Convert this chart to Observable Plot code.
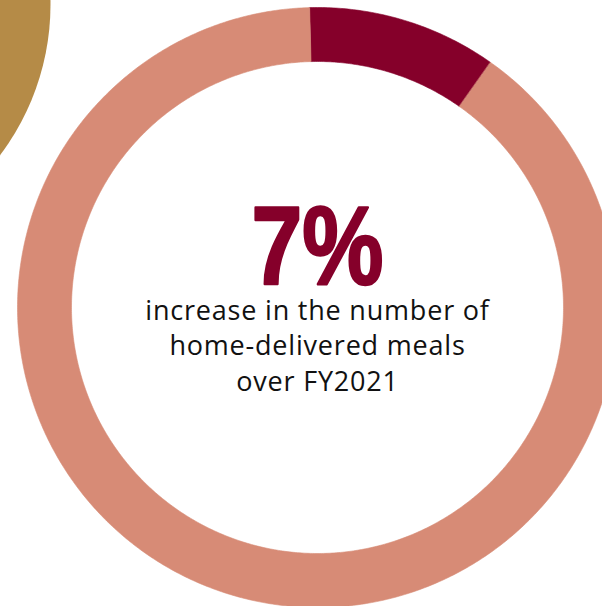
<!DOCTYPE html>
<html><head><meta charset="utf-8">
<script src="https://cdn.jsdelivr.net/npm/d3@7"></script>
<script src="https://cdn.jsdelivr.net/npm/@observablehq/plot@0.6"></script>
<style>html,body{margin:0;padding:0;background:#fff;overflow:hidden}</style>
</head><body><div id="chart"></div>
<script>
// ---- data ----
const segments = ["Increase", "Rest"];
const shares = [10.2, 89.8];
const colors = ["#85002A", "#D78B76"];
const headline = ["7%"];
const captionLines = ["increase in the number of", "home-delivered meals", "over FY2021"];

// ---- layout ----
const W = 602, H = 606, cx = 317, cy = 307, rOuter = 300, rInner = 246;
const startAngle = -1.5 * Math.PI / 180;

const pie = d3.pie().sort(null).startAngle(startAngle).endAngle(startAngle + 2 * Math.PI);
const arcs = pie(shares);
const ringPts = [];
arcs.forEach((a, i) => {
  const n = Math.max(2, Math.ceil((a.endAngle - a.startAngle) / (Math.PI / 360)));
  for (let k = 0; k <= n; k++) {
    const t = a.startAngle + (a.endAngle - a.startAngle) * k / n;
    ringPts.push({seg: segments[i], x: rOuter * Math.sin(t), y: rOuter * Math.cos(t)});
  }
  for (let k = n; k >= 0; k--) {
    const t = a.startAngle + (a.endAngle - a.startAngle) * k / n;
    ringPts.push({seg: segments[i], x: rInner * Math.sin(t), y: rInner * Math.cos(t)});
  }
});

const chart = Plot.plot({
  width: W, height: H, margin: 0,
  x: {domain: [-cx, W - cx], axis: null},
  y: {domain: [cy - H, cy], axis: null},
  color: {domain: segments, range: colors},
  marks: [
    Plot.dot([0], {x: -200 - cx, y: cy - 4, r: 250, fill: "#B58B47"}),
    Plot.line(ringPts, {x: "x", y: "y", z: "seg", fill: "seg", stroke: "seg", strokeWidth: 0.6, curve: "linear-closed"}),
    Plot.text(headline, {x: 0, y: cy - 283, text: d => d, lineAnchor: "bottom", fontSize: 112, fontWeight: "bold",
      fontFamily: "'Liberation Sans', sans-serif", fill: "#85002A", stroke: "#85002A", strokeWidth: 2.5,
      className: "headline"}),
    Plot.text([captionLines.join("\n")], {x: 0, y: cy - 390, text: d => d, lineAnchor: "bottom", lineHeight: 1.3,
      fontSize: 27, fontFamily: "'Open Sans', sans-serif", fill: "#111", className: "caption"})
  ]
});
const ht = chart.querySelector(".headline text");
if (ht) { ht.setAttribute("textLength", 132); ht.setAttribute("lengthAdjust", "spacingAndGlyphs"); }
const ct = chart.querySelector(".caption text");
if (ct) ct.setAttribute("letter-spacing", "0.8px");
document.getElementById("chart").append(chart);
</script>
</body></html>
